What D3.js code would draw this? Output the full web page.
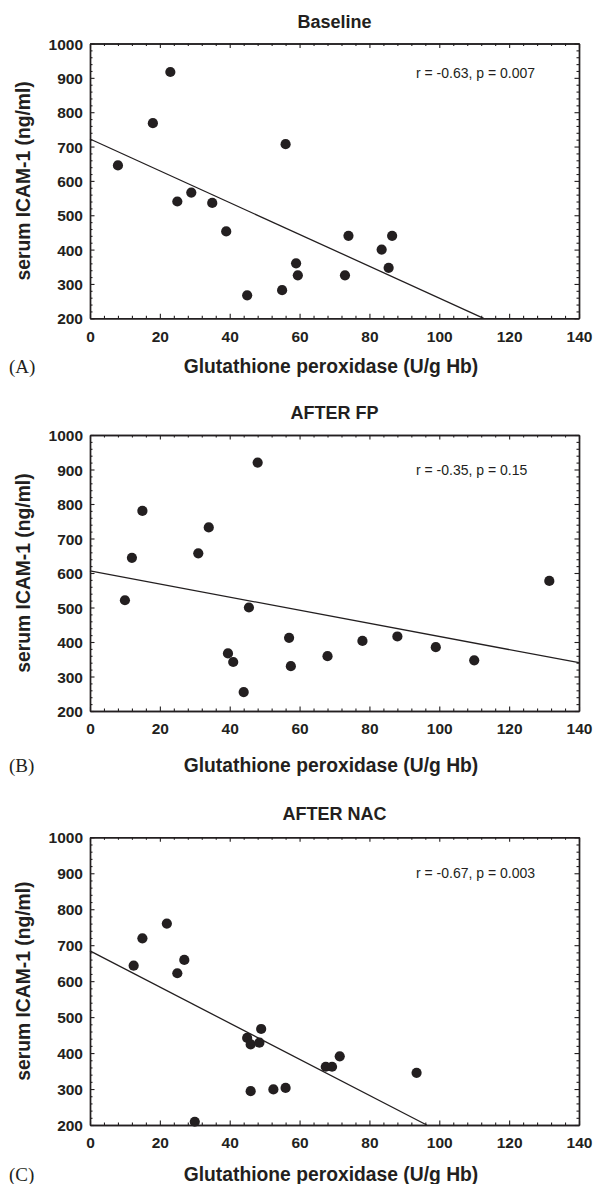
<!DOCTYPE html>
<html><head><meta charset="utf-8">
<script src="https://cdn.jsdelivr.net/npm/d3@7"></script>
<style>
body{margin:0;background:#fff;}
svg{display:block;font-family:"Liberation Sans",Arial,Helvetica,sans-serif;}
</style></head><body>
<svg id="chart" width="596" height="1184"></svg>
<script>
// ---- data ----
const xTicks = [0, 20, 40, 60, 80, 100, 120, 140];
const yTicks = [200, 300, 400, 500, 600, 700, 800, 900, 1000];
const panelTitles = ["Baseline", "AFTER FP", "AFTER NAC"];
const panelLetters = ["(A)", "(B)", "(C)"];
const statLabels = ["r = -0.63, p = 0.007", "r = -0.35, p = 0.15", "r = -0.67, p = 0.003"];
const xTitle = "Glutathione peroxidase (U/g Hb)";
const yTitle = "serum ICAM-1 (ng/ml)";

const baselineGpx = [8, 18, 23, 56, 29, 25, 35, 39, 45, 55, 59, 59.5, 74, 86.5, 83.5, 85.5, 73];
const baselineIcam = [645, 768, 917, 707, 566, 540, 536, 453, 267, 282, 360, 325, 440, 440, 400, 347, 325];
const baselineFit = [[0, 722], [112.7, 200]];

const fpGpx = [15, 12, 48, 34, 31, 10, 45.5, 39.5, 41, 44, 57, 57.5, 68, 78, 88, 99, 110, 131.5];
const fpIcam = [780, 644, 920, 732, 657, 521, 500, 367, 342, 255, 412, 330, 359, 403, 416, 385, 347, 577];
const fpFit = [[0, 606], [140, 340]];

const nacGpx = [22, 15, 12.5, 27, 25, 49, 45, 46, 48.5, 46, 52.5, 56, 30, 67.5, 69.3, 71.5, 93.5];
const nacIcam = [760, 719, 643, 659, 622, 467, 442, 424, 429, 294, 299, 303, 209, 362, 362, 391, 345];
const nacFit = [[0, 684], [96.4, 200]];

const seriesX = [baselineGpx, fpGpx, nacGpx];
const seriesY = [baselineIcam, fpIcam, nacIcam];
const fits = [baselineFit, fpFit, nacFit];

// ---- layout ----
const layouts = [
  {top: 43.5, bottom: 318.3, titleDy: 15.2, xTitleDy: 55, statDy: 34.5},
  {top: 435,  bottom: 711,   titleDy: 15.7, xTitleDy: 60.5, statDy: 39.5},
  {top: 837.3, bottom: 1125, titleDy: 17.3, xTitleDy: 55.7, statDy: 40.7}
];
const L = 90, R = 579;
const ink = "#231f20";
const svg = d3.select("#chart");
const fmt = d3.format("d");

layouts.forEach((lay, i) => {
  const x = d3.scaleLinear().domain([0, 140]).range([L, R]);
  const y = d3.scaleLinear().domain([200, 1000]).range([lay.bottom, lay.top]);
  const g = svg.append("g");

  const xMinor = d3.range(0, 141, 4).filter(v => v % 20 !== 0);
  const yMinor = d3.range(200, 1001, 20).filter(v => v % 100 !== 0);

  function styleAxis(sel) {
    sel.selectAll("path.domain").attr("stroke", ink).attr("stroke-width", 1.4);
    sel.selectAll(".tick line").attr("stroke", ink).attr("stroke-width", 1.1);
  }

  // bottom
  const gb = g.append("g").attr("transform", `translate(0,${lay.bottom})`)
    .call(d3.axisBottom(x).tickValues(xTicks).tickFormat(fmt).tickSize(-4.5).tickSizeOuter(0));
  gb.selectAll("text").attr("y", 23.4).attr("dy", null)
    .attr("font-size", "15.5px").attr("font-weight", "bold").attr("fill", ink)
    .attr("font-family", "'Liberation Sans',Arial,sans-serif");
  styleAxis(gb);
  const gbm = g.append("g").attr("transform", `translate(0,${lay.bottom})`)
    .call(d3.axisBottom(x).tickValues(xMinor).tickSize(-2.5).tickSizeOuter(0).tickFormat(""));
  styleAxis(gbm);
  // top
  const gt = g.append("g").attr("transform", `translate(0,${lay.top})`)
    .call(d3.axisTop(x).tickValues(xTicks).tickSize(-4.5).tickSizeOuter(0).tickFormat(""));
  styleAxis(gt);
  const gtm = g.append("g").attr("transform", `translate(0,${lay.top})`)
    .call(d3.axisTop(x).tickValues(xMinor).tickSize(-2.5).tickSizeOuter(0).tickFormat(""));
  styleAxis(gtm);
  // left
  const gl = g.append("g").attr("transform", `translate(${L},0)`)
    .call(d3.axisLeft(y).tickValues(yTicks).tickFormat(fmt).tickSize(-4.5).tickSizeOuter(0));
  gl.selectAll("text").attr("x", -7).attr("dy", "0.36em")
    .attr("font-size", "15.5px").attr("font-weight", "bold").attr("fill", ink)
    .attr("font-family", "'Liberation Sans',Arial,sans-serif");
  styleAxis(gl);
  const glm = g.append("g").attr("transform", `translate(${L},0)`)
    .call(d3.axisLeft(y).tickValues(yMinor).tickSize(-2.5).tickSizeOuter(0).tickFormat(""));
  styleAxis(glm);
  // right
  const gr = g.append("g").attr("transform", `translate(${R},0)`)
    .call(d3.axisRight(y).tickValues(yTicks).tickSize(-4.5).tickSizeOuter(0).tickFormat(""));
  styleAxis(gr);
  const grm = g.append("g").attr("transform", `translate(${R},0)`)
    .call(d3.axisRight(y).tickValues(yMinor).tickSize(-2.5).tickSizeOuter(0).tickFormat(""));
  styleAxis(grm);

  // fit line
  g.append("path").datum(fits[i])
    .attr("d", d3.line().x(d => x(d[0])).y(d => y(d[1])))
    .attr("fill", "none").attr("stroke", ink).attr("stroke-width", 1.3);

  // points
  g.append("g").selectAll("circle").data(seriesX[i].map((v, k) => [v, seriesY[i][k]]))
    .join("circle").attr("cx", d => x(d[0])).attr("cy", d => y(d[1]))
    .attr("r", 5.1).attr("fill", ink);

  // title
  g.append("text").attr("x", (L + R) / 2).attr("y", lay.top - lay.titleDy)
    .attr("text-anchor", "middle").attr("font-size", "18px").attr("font-weight", "bold")
    .attr("fill", ink).text(panelTitles[i]);

  // stat label
  g.append("text").attr("x", 416).attr("y", lay.top + lay.statDy)
    .attr("font-size", "14px").attr("fill", ink).text(statLabels[i]);

  // x title
  g.append("text").attr("x", 331).attr("y", lay.bottom + lay.xTitleDy)
    .attr("text-anchor", "middle").attr("font-size", "19.3px").attr("font-weight", "bold")
    .attr("fill", ink).text(xTitle);

  // y title
  g.append("text").attr("transform", `translate(30,${(lay.top + lay.bottom) / 2}) rotate(-90)`)
    .attr("text-anchor", "middle").attr("font-size", "19.3px").attr("font-weight", "bold")
    .attr("fill", ink).text(yTitle);

  // panel letter
  g.append("text").attr("x", 9).attr("y", lay.bottom + lay.xTitleDy)
    .attr("font-size", "19px").attr("font-family", "'Liberation Serif','Times New Roman',serif")
    .attr("fill", ink).text(panelLetters[i]);
});
</script>
</body></html>
